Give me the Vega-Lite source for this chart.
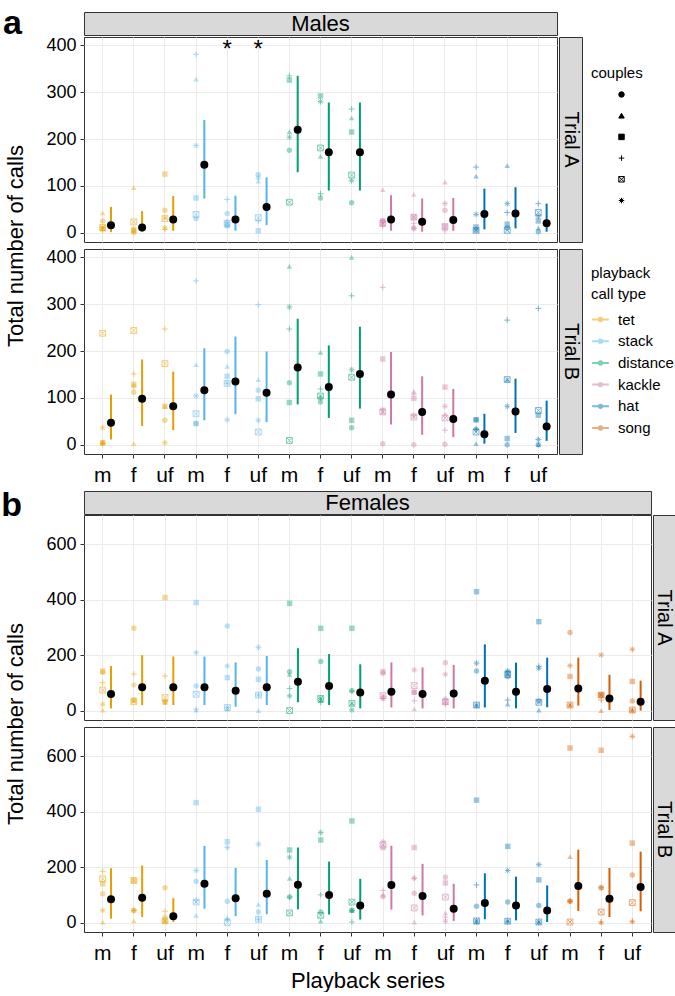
{
"$schema":"https://vega.github.io/schema/vega-lite/v6.json",
"padding":{"left":0,"top":6,"right":0,"bottom":0},
"config":{
 "font":"Liberation Sans",
 "view":{"stroke":"#333333"},
 "axis":{"gridColor":"#ebebeb","domain":false,"tickColor":"#333333","tickSize":4,"labelColor":"black","titleColor":"black","titleFontWeight":"normal","grid":true},
 "axisX":{"labelFontSize":21,"labelPadding":6,"labelAngle":0,"bandPosition":0.5,"titleFontSize":22,"titlePadding":7},
 "axisY":{"labelFontSize":18,"labelPadding":4,"titleFontSize":22,"titlePadding":18},
 "legend":{"titleFontSize":15,"titleFontWeight":"normal","labelFontSize":15,"titleColor":"black","labelColor":"black","rowPadding":6,"padding":0,"titlePadding":8,"direction":"vertical"}
},
"datasets":{"d":[
{"s":"M","t":"A","call":"tet","k":"tet m","c1":25,"c2":42,"c3":8,"c4":5,"c5":11,"c6":11,"mean":16,"lo":1,"hi":55},
{"s":"M","t":"A","call":"tet","k":"tet f","c1":8,"c2":96,"c3":4,"c4":2,"c5":23,"c6":0,"mean":11,"lo":2,"hi":46},
{"s":"M","t":"A","call":"tet","k":"tet uf","c1":48,"c2":33,"c3":125,"c4":7,"c5":30,"c6":10,"mean":28,"lo":4,"hi":78},
{"s":"M","t":"A","call":"stack","k":"stack m","c1":30,"c2":328,"c3":74,"c4":381,"c5":39,"c6":186,"mean":145,"lo":73,"hi":241},
{"s":"M","t":"A","call":"stack","k":"stack f","c1":41,"c2":25,"c3":16,"c4":71,"c5":20,"c6":14,"mean":28,"lo":4,"hi":79,"sig":"*"},
{"s":"M","t":"A","call":"stack","k":"stack uf","c1":124,"c2":110,"c3":4,"c4":25,"c5":32,"c6":117,"mean":55,"lo":16,"hi":118,"sig":"*"},
{"s":"M","t":"A","call":"distance","k":"distance m","c1":176,"c2":216,"c3":326,"c4":335,"c5":65,"c6":204,"mean":220,"lo":129,"hi":335},
{"s":"M","t":"A","call":"distance","k":"distance f","c1":74,"c2":163,"c3":292,"c4":83,"c5":181,"c6":280,"mean":172,"lo":90,"hi":278},
{"s":"M","t":"A","call":"distance","k":"distance uf","c1":64,"c2":245,"c3":215,"c4":264,"c5":123,"c6":111,"mean":172,"lo":90,"hi":278},
{"s":"M","t":"A","call":"kackle","k":"kackle m","c1":25,"c2":92,"c3":25,"c4":14,"c5":20,"c6":18,"mean":28,"lo":4,"hi":80},
{"s":"M","t":"A","call":"kackle","k":"kackle f","c1":10,"c2":82,"c3":33,"c4":20,"c5":33,"c6":9,"mean":23,"lo":2,"hi":73},
{"s":"M","t":"A","call":"kackle","k":"kackle uf","c1":48,"c2":108,"c3":13,"c4":4,"c5":13,"c6":62,"mean":27,"lo":4,"hi":74},
{"s":"M","t":"A","call":"hat","k":"hat m","c1":5,"c2":121,"c3":12,"c4":140,"c5":5,"c6":39,"mean":40,"lo":7,"hi":94},
{"s":"M","t":"A","call":"hat","k":"hat f","c1":10,"c2":143,"c3":18,"c4":43,"c5":5,"c6":62,"mean":41,"lo":9,"hi":97},
{"s":"M","t":"A","call":"hat","k":"hat uf","c1":2,"c2":10,"c3":25,"c4":62,"c5":43,"c6":35,"mean":20,"lo":2,"hi":62},
{"s":"M","t":"B","call":"tet","k":"tet m","c1":4,"c2":4,"c3":4,"c4":2,"c5":238,"c6":36,"mean":47,"lo":11,"hi":107},
{"s":"M","t":"B","call":"tet","k":"tet f","c1":112,"c2":2,"c3":129,"c4":151,"c5":244,"c6":125,"mean":98,"lo":40,"hi":182},
{"s":"M","t":"B","call":"tet","k":"tet uf","c1":52,"c2":82,"c3":82,"c4":247,"c5":173,"c6":4,"mean":82,"lo":31,"hi":156},
{"s":"M","t":"B","call":"stack","k":"stack m","c1":45,"c2":171,"c3":45,"c4":350,"c5":66,"c6":104,"mean":116,"lo":52,"hi":206},
{"s":"M","t":"B","call":"stack","k":"stack f","c1":199,"c2":167,"c3":146,"c4":131,"c5":131,"c6":53,"mean":135,"lo":65,"hi":231},
{"s":"M","t":"B","call":"stack","k":"stack uf","c1":116,"c2":139,"c3":98,"c4":299,"c5":27,"c6":52,"mean":111,"lo":48,"hi":199},
{"s":"M","t":"B","call":"distance","k":"distance m","c1":132,"c2":381,"c3":90,"c4":247,"c5":9,"c6":294,"mean":165,"lo":86,"hi":269},
{"s":"M","t":"B","call":"distance","k":"distance f","c1":91,"c2":197,"c3":151,"c4":119,"c5":104,"c6":100,"mean":123,"lo":57,"hi":212},
{"s":"M","t":"B","call":"distance","k":"distance uf","c1":36,"c2":400,"c3":52,"c4":318,"c5":144,"c6":160,"mean":151,"lo":77,"hi":252},
{"s":"M","t":"B","call":"kackle","k":"kackle m","c1":2,"c2":70,"c3":183,"c4":336,"c5":70,"c6":75,"mean":107,"lo":43,"hi":198},
{"s":"M","t":"B","call":"kackle","k":"kackle f","c1":0,"c2":114,"c3":99,"c4":108,"c5":59,"c6":62,"mean":70,"lo":21,"hi":146},
{"s":"M","t":"B","call":"kackle","k":"kackle uf","c1":1,"c2":65,"c3":123,"c4":31,"c5":57,"c6":82,"mean":55,"lo":16,"hi":119},
{"s":"M","t":"B","call":"hat","k":"hat m","c1":53,"c2":2,"c3":53,"c4":33,"c5":27,"c6":33,"mean":22,"lo":2,"hi":66},
{"s":"M","t":"B","call":"hat","k":"hat f","c1":0,"c2":139,"c3":13,"c4":266,"c5":139,"c6":82,"mean":71,"lo":25,"hi":141},
{"s":"M","t":"B","call":"hat","k":"hat uf","c1":0,"c2":0,"c3":63,"c4":291,"c5":73,"c6":11,"mean":39,"lo":8,"hi":94},
{"s":"F","t":"A","call":"tet","k":"tet m","c1":138,"c2":2,"c3":143,"c4":101,"c5":74,"c6":23,"mean":60,"lo":8,"hi":161},
{"s":"F","t":"A","call":"tet","k":"tet f","c1":297,"c2":38,"c3":38,"c4":132,"c5":32,"c6":92,"mean":84,"lo":20,"hi":200},
{"s":"F","t":"A","call":"tet","k":"tet uf","c1":32,"c2":29,"c3":408,"c4":125,"c5":47,"c6":32,"mean":84,"lo":20,"hi":195},
{"s":"F","t":"A","call":"stack","k":"stack m","c1":89,"c2":2,"c3":390,"c4":5,"c5":59,"c6":209,"mean":84,"lo":20,"hi":195},
{"s":"F","t":"A","call":"stack","k":"stack f","c1":305,"c2":5,"c3":119,"c4":11,"c5":11,"c6":161,"mean":72,"lo":14,"hi":174},
{"s":"F","t":"A","call":"stack","k":"stack uf","c1":150,"c2":0,"c3":113,"c4":56,"c5":56,"c6":228,"mean":84,"lo":20,"hi":197},
{"s":"F","t":"A","call":"distance","k":"distance m","c1":140,"c2":131,"c3":387,"c4":80,"c5":0,"c6":53,"mean":104,"lo":30,"hi":225},
{"s":"F","t":"A","call":"distance","k":"distance f","c1":177,"c2":36,"c3":297,"c4":30,"c5":44,"c6":44,"mean":89,"lo":20,"hi":204},
{"s":"F","t":"A","call":"distance","k":"distance uf","c1":72,"c2":26,"c3":297,"c4":70,"c5":26,"c6":2,"mean":65,"lo":8,"hi":167},
{"s":"F","t":"A","call":"kackle","k":"kackle m","c1":135,"c2":44,"c3":141,"c4":44,"c5":54,"c6":50,"mean":68,"lo":11,"hi":174},
{"s":"F","t":"A","call":"kackle","k":"kackle f","c1":66,"c2":6,"c3":66,"c4":35,"c5":90,"c6":147,"mean":60,"lo":8,"hi":156},
{"s":"F","t":"A","call":"kackle","k":"kackle uf","c1":173,"c2":47,"c3":32,"c4":23,"c5":32,"c6":131,"mean":62,"lo":8,"hi":165},
{"s":"F","t":"A","call":"hat","k":"hat m","c1":143,"c2":18,"c3":429,"c4":20,"c5":20,"c6":171,"mean":108,"lo":11,"hi":239},
{"s":"F","t":"A","call":"hat","k":"hat f","c1":123,"c2":23,"c3":135,"c4":38,"c5":130,"c6":143,"mean":68,"lo":8,"hi":173},
{"s":"F","t":"A","call":"hat","k":"hat uf","c1":35,"c2":2,"c3":321,"c4":160,"c5":30,"c6":153,"mean":78,"lo":12,"hi":191},
{"s":"F","t":"A","call":"song","k":"song m","c1":282,"c2":20,"c3":123,"c4":20,"c5":20,"c6":162,"mean":80,"lo":18,"hi":191},
{"s":"F","t":"A","call":"song","k":"song f","c1":56,"c2":0,"c3":56,"c4":38,"c5":56,"c6":201,"mean":44,"lo":2,"hi":129},
{"s":"F","t":"A","call":"song","k":"song uf","c1":35,"c2":2,"c3":105,"c4":2,"c5":2,"c6":221,"mean":32,"lo":0,"hi":108},
{"s":"F","t":"B","call":"tet","k":"tet m","c1":104,"c2":2,"c3":140,"c4":185,"c5":158,"c6":44,"mean":84,"lo":14,"hi":196},
{"s":"F","t":"B","call":"tet","k":"tet f","c1":44,"c2":6,"c3":152,"c4":44,"c5":152,"c6":44,"mean":90,"lo":20,"hi":206},
{"s":"F","t":"B","call":"tet","k":"tet uf","c1":126,"c2":6,"c3":6,"c4":41,"c5":6,"c6":20,"mean":23,"lo":2,"hi":88},
{"s":"F","t":"B","call":"stack","k":"stack m","c1":149,"c2":26,"c3":433,"c4":80,"c5":74,"c6":188,"mean":140,"lo":50,"hi":277},
{"s":"F","t":"B","call":"stack","k":"stack f","c1":77,"c2":14,"c3":292,"c4":14,"c5":0,"c6":271,"mean":88,"lo":23,"hi":197},
{"s":"F","t":"B","call":"stack","k":"stack uf","c1":38,"c2":66,"c3":409,"c4":12,"c5":12,"c6":283,"mean":104,"lo":30,"hi":226},
{"s":"F","t":"B","call":"distance","k":"distance m","c1":92,"c2":160,"c3":262,"c4":92,"c5":35,"c6":236,"mean":137,"lo":48,"hi":271},
{"s":"F","t":"B","call":"distance","k":"distance f","c1":38,"c2":5,"c3":298,"c4":100,"c5":26,"c6":325,"mean":100,"lo":29,"hi":220},
{"s":"F","t":"B","call":"distance","k":"distance uf","c1":44,"c2":44,"c3":367,"c4":2,"c5":74,"c6":44,"mean":62,"lo":11,"hi":158},
{"s":"F","t":"B","call":"kackle","k":"kackle m","c1":94,"c2":100,"c3":271,"c4":116,"c5":280,"c6":292,"mean":136,"lo":47,"hi":277},
{"s":"F","t":"B","call":"kackle","k":"kackle f","c1":106,"c2":2,"c3":271,"c4":160,"c5":53,"c6":160,"mean":96,"lo":26,"hi":212},
{"s":"F","t":"B","call":"kackle","k":"kackle uf","c1":164,"c2":35,"c3":143,"c4":20,"c5":92,"c6":5,"mean":50,"lo":6,"hi":140},
{"s":"F","t":"B","call":"hat","k":"hat m","c1":59,"c2":2,"c3":442,"c4":136,"c5":6,"c6":6,"mean":71,"lo":12,"hi":178},
{"s":"F","t":"B","call":"hat","k":"hat f","c1":74,"c2":5,"c3":275,"c4":5,"c5":5,"c6":188,"mean":62,"lo":8,"hi":166},
{"s":"F","t":"B","call":"hat","k":"hat uf","c1":62,"c2":2,"c3":154,"c4":2,"c5":2,"c6":209,"mean":44,"lo":2,"hi":134},
{"s":"F","t":"B","call":"song","k":"song m","c1":77,"c2":238,"c3":630,"c4":77,"c5":2,"c6":77,"mean":132,"lo":42,"hi":263},
{"s":"F","t":"B","call":"song","k":"song f","c1":126,"c2":2,"c3":622,"c4":2,"c5":38,"c6":126,"mean":86,"lo":20,"hi":197},
{"s":"F","t":"B","call":"song","k":"song uf","c1":172,"c2":5,"c3":287,"c4":5,"c5":72,"c6":672,"mean":128,"lo":41,"hi":256}
]},
"spacing":2,
"vconcat":[
{
 "align":"none",
 "spacing":-7,
 "vconcat":[
  {"width":473,"height":23,"data":{"values":[{"lab":"Males"}]},"view":{"fill":"#d9d9d9","stroke":"#333333"},
   "title":{"text":"a","orient":"left","anchor":"end","angle":0,"align":"left","baseline":"alphabetic","offset":62,"dy":22,"fontSize":34,"fontWeight":"bold","color":"black"},
   "mark":{"type":"text","fontSize":22,"baseline":"middle","color":"black"},"encoding":{"text":{"field":"lab"}}},
  {"spacing":0,"hconcat":[
   {"spacing":7,"bounds":"flush","vconcat":[
    {"width":473,"height":205,"data":{"name":"d"},"transform":[{"filter":"datum.s==='M' && datum.t==='A'"}],"view":{"stroke":"#333333"},
     "layer":[
      {"mark":{"type":"rule","strokeWidth":2},"encoding":{
        "x":{"field":"k","type":"nominal","bandPosition":0.767,"scale":{"type":"band","domain":["tet m","tet f","tet uf","stack m","stack f","stack uf","distance m","distance f","distance uf","kackle m","kackle f","kackle uf","hat m","hat f","hat uf"],"paddingInner":0,"paddingOuter":0.1},"axis":{"labels":false,"ticks":false,"title":null}},
        "y":{"field":"lo","type":"quantitative","scale":{"domain":[-20,418],"nice":false,"zero":false},"axis":{"values":[0,50,100,150,200,250,300,350,400],"labelExpr":"datum.value % 100 === 0 ? datum.label : ''","gridWidth":{"condition":{"test":"datum.value % 100 !== 0","value":0.6},"value":1},"tickOpacity":{"condition":{"test":"datum.value % 100 !== 0","value":0},"value":1},"title":"Total number of calls","titleY":208.5}},
        "y2":{"field":"hi"},
        "color":{"field":"call","type":"nominal","scale":{"domain":["tet","stack","distance","kackle","hat","song"],"range":["#E69F00","#56B4E9","#009E73","#CC79A7","#0072B2","#D55E00"]},"legend":{"title":["playback","call type"],"orient":"none","legendX":507,"legendY":254,"symbolType":"M-1,0L1,0M-0.2,0A0.2,0.2,0,1,1,0.2,0A0.2,0.2,0,1,1,-0.2,0","symbolSize":280,"symbolStrokeWidth":2,"symbolOpacity":0.6,"labelOffset":8,"rowPadding":3.7,"titleLineHeight":21,"titlePadding":8}}}},
      {"transform":[{"fold":["c1","c2","c3","c4","c5","c6"],"as":["couple","v"]},{"filter":{"field":"couple","oneOf":["c4","c5","c6"]}}],
       "mark":{"type":"point","filled":false,"opacity":0.5,"size":34,"strokeWidth":1},
       "encoding":{"x":{"field":"k","type":"nominal"},"y":{"field":"v","type":"quantitative"},"color":{"field":"call","type":"nominal"},"shape":{"field":"couple","type":"nominal"}}},
      {"transform":[{"fold":["c1","c2","c3","c4","c5","c6"],"as":["couple","v"]},{"filter":{"field":"couple","oneOf":["c1","c2","c3"]}}],
       "mark":{"type":"point","filled":true,"opacity":0.4,"size":30},
       "encoding":{"x":{"field":"k","type":"nominal"},"y":{"field":"v","type":"quantitative"},"color":{"field":"call","type":"nominal"},
        "shape":{"field":"couple","type":"nominal","scale":{"domain":["c1","c2","c3","c4","c5","c6"],"range":["circle","triangle-up","square","M-1,0L1,0M0,-1L0,1","M-1,-1L1,-1M1,-1L1,1M1,1L-1,1M-1,1L-1,-1M-1,-1L1,1M-1,1L1,-1","M-1,0L1,0M0,-1L0,1M-0.7,-0.7L0.7,0.7M-0.7,0.7L0.7,-0.7"]},"legend":{"title":"couples","orient":"none","legendX":507,"legendY":54,"labelExpr":"''","symbolFillColor":"black","symbolStrokeColor":"black","symbolOpacity":1,"symbolSize":30,"symbolStrokeWidth":1,"symbolOffset":23,"rowPadding":5.2,"titlePadding":6,"encode":{"symbols":{"update":{"fill":{"value":"black"},"stroke":{"value":"black"},"opacity":{"value":1},"strokeWidth":{"value":1}}}}}}}},
      {"mark":{"type":"point","filled":true,"color":"black","opacity":1,"size":64},"encoding":{"x":{"field":"k","type":"nominal","bandPosition":0.767},"y":{"field":"mean","type":"quantitative"}}},
      {"transform":[{"filter":"isValid(datum.sig)"}],"mark":{"type":"text","fontSize":24,"baseline":"alphabetic","color":"black"},"encoding":{"x":{"field":"k","type":"nominal"},"y":{"datum":376},"text":{"field":"sig"}}}
     ]},
    {"width":473,"height":205,"data":{"name":"d"},"transform":[{"filter":"datum.s==='M' && datum.t==='B'"}],"view":{"stroke":"#333333"},
     "layer":[
      {"mark":{"type":"rule","strokeWidth":2},"encoding":{
        "x":{"field":"k","type":"nominal","bandPosition":0.767,"scale":{"type":"band","domain":["tet m","tet f","tet uf","stack m","stack f","stack uf","distance m","distance f","distance uf","kackle m","kackle f","kackle uf","hat m","hat f","hat uf"],"paddingInner":0,"paddingOuter":0.1},"axis":{"labelExpr":"split(datum.label,' ')[1]","title":null}},
        "y":{"field":"lo","type":"quantitative","scale":{"domain":[-20,418],"nice":false,"zero":false},"axis":{"values":[0,50,100,150,200,250,300,350,400],"labelExpr":"datum.value % 100 === 0 ? datum.label : ''","gridWidth":{"condition":{"test":"datum.value % 100 !== 0","value":0.6},"value":1},"tickOpacity":{"condition":{"test":"datum.value % 100 !== 0","value":0},"value":1},"title":null}},
        "y2":{"field":"hi"},
        "color":{"field":"call","type":"nominal","scale":{"domain":["tet","stack","distance","kackle","hat","song"],"range":["#E69F00","#56B4E9","#009E73","#CC79A7","#0072B2","#D55E00"]},"legend":{"title":["playback","call type"],"orient":"none","legendX":507,"legendY":254,"symbolType":"M-1,0L1,0M-0.2,0A0.2,0.2,0,1,1,0.2,0A0.2,0.2,0,1,1,-0.2,0","symbolSize":280,"symbolStrokeWidth":2,"symbolOpacity":0.6,"labelOffset":8,"rowPadding":3.7,"titleLineHeight":21,"titlePadding":8}}}},
      {"transform":[{"fold":["c1","c2","c3","c4","c5","c6"],"as":["couple","v"]},{"filter":{"field":"couple","oneOf":["c4","c5","c6"]}}],
       "mark":{"type":"point","filled":false,"opacity":0.5,"size":34,"strokeWidth":1},
       "encoding":{"x":{"field":"k","type":"nominal"},"y":{"field":"v","type":"quantitative"},"color":{"field":"call","type":"nominal"},"shape":{"field":"couple","type":"nominal"}}},
      {"transform":[{"fold":["c1","c2","c3","c4","c5","c6"],"as":["couple","v"]},{"filter":{"field":"couple","oneOf":["c1","c2","c3"]}}],
       "mark":{"type":"point","filled":true,"opacity":0.4,"size":30},
       "encoding":{"x":{"field":"k","type":"nominal"},"y":{"field":"v","type":"quantitative"},"color":{"field":"call","type":"nominal"},
        "shape":{"field":"couple","type":"nominal","scale":{"domain":["c1","c2","c3","c4","c5","c6"],"range":["circle","triangle-up","square","M-1,0L1,0M0,-1L0,1","M-1,-1L1,-1M1,-1L1,1M1,1L-1,1M-1,1L-1,-1M-1,-1L1,1M-1,1L1,-1","M-1,0L1,0M0,-1L0,1M-0.7,-0.7L0.7,0.7M-0.7,0.7L0.7,-0.7"]},"legend":{"title":"couples","orient":"none","legendX":507,"legendY":54,"labelExpr":"''","symbolFillColor":"black","symbolStrokeColor":"black","symbolOpacity":1,"symbolSize":30,"symbolStrokeWidth":1,"symbolOffset":23,"rowPadding":5.2,"titlePadding":6,"encode":{"symbols":{"update":{"fill":{"value":"black"},"stroke":{"value":"black"},"opacity":{"value":1},"strokeWidth":{"value":1}}}}}}}},
      {"mark":{"type":"point","filled":true,"color":"black","opacity":1,"size":64},"encoding":{"x":{"field":"k","type":"nominal","bandPosition":0.767},"y":{"field":"mean","type":"quantitative"}}}
     ]}
   ]},
   {"spacing":7,"bounds":"flush","vconcat":[
    {"width":23,"height":205,"data":{"values":[{"lab":"Trial A"}]},"view":{"fill":"#d9d9d9","stroke":"#333333"},"mark":{"type":"text","fontSize":20,"angle":90,"baseline":"middle","color":"black"},"encoding":{"text":{"field":"lab"}}},
    {"width":23,"height":205,"data":{"values":[{"lab":"Trial B"}]},"view":{"fill":"#d9d9d9","stroke":"#333333"},"mark":{"type":"text","fontSize":20,"angle":90,"baseline":"middle","color":"black"},"encoding":{"text":{"field":"lab"}}}
   ]}
  ]}
 ]
},
{
 "align":"none",
 "spacing":-10,
 "vconcat":[
  {"width":567,"height":23,"data":{"values":[{"lab":"Females"}]},"view":{"fill":"#d9d9d9","stroke":"#333333"},
   "title":{"text":"b","orient":"left","anchor":"end","angle":0,"align":"left","baseline":"alphabetic","offset":62,"dy":25,"fontSize":34,"fontWeight":"bold","color":"black"},
   "mark":{"type":"text","fontSize":22,"baseline":"middle","color":"black"},"encoding":{"text":{"field":"lab"}}},
  {"spacing":0,"hconcat":[
   {"spacing":7,"bounds":"flush","vconcat":[
    {"width":567,"height":205,"data":{"name":"d"},"transform":[{"filter":"datum.s==='F' && datum.t==='A'"}],"view":{"stroke":"#333333"},
     "layer":[
      {"mark":{"type":"rule","strokeWidth":2},"encoding":{
        "x":{"field":"k","type":"nominal","bandPosition":0.767,"scale":{"type":"band","domain":["tet m","tet f","tet uf","stack m","stack f","stack uf","distance m","distance f","distance uf","kackle m","kackle f","kackle uf","hat m","hat f","hat uf","song m","song f","song uf"],"paddingInner":0,"paddingOuter":0.1},"axis":{"labels":false,"ticks":false,"title":null}},
        "y":{"field":"lo","type":"quantitative","scale":{"domain":[-34,706],"nice":false,"zero":false},"axis":{"values":[0,100,200,300,400,500,600,700],"labelExpr":"datum.value % 200 === 0 ? datum.label : ''","gridWidth":{"condition":{"test":"datum.value % 200 !== 0","value":0.6},"value":1},"tickOpacity":{"condition":{"test":"datum.value % 200 !== 0","value":0},"value":1},"title":"Total number of calls","titleY":208.5}},
        "y2":{"field":"hi"},
        "color":{"field":"call","type":"nominal","scale":{"domain":["tet","stack","distance","kackle","hat","song"],"range":["#E69F00","#56B4E9","#009E73","#CC79A7","#0072B2","#D55E00"]},"legend":{"title":["playback","call type"],"orient":"none","legendX":507,"legendY":254,"symbolType":"M-1,0L1,0M-0.2,0A0.2,0.2,0,1,1,0.2,0A0.2,0.2,0,1,1,-0.2,0","symbolSize":280,"symbolStrokeWidth":2,"symbolOpacity":0.6,"labelOffset":8,"rowPadding":3.7,"titleLineHeight":21,"titlePadding":8}}}},
      {"transform":[{"fold":["c1","c2","c3","c4","c5","c6"],"as":["couple","v"]},{"filter":{"field":"couple","oneOf":["c4","c5","c6"]}}],
       "mark":{"type":"point","filled":false,"opacity":0.5,"size":34,"strokeWidth":1},
       "encoding":{"x":{"field":"k","type":"nominal"},"y":{"field":"v","type":"quantitative"},"color":{"field":"call","type":"nominal"},"shape":{"field":"couple","type":"nominal"}}},
      {"transform":[{"fold":["c1","c2","c3","c4","c5","c6"],"as":["couple","v"]},{"filter":{"field":"couple","oneOf":["c1","c2","c3"]}}],
       "mark":{"type":"point","filled":true,"opacity":0.4,"size":30},
       "encoding":{"x":{"field":"k","type":"nominal"},"y":{"field":"v","type":"quantitative"},"color":{"field":"call","type":"nominal"},
        "shape":{"field":"couple","type":"nominal","scale":{"domain":["c1","c2","c3","c4","c5","c6"],"range":["circle","triangle-up","square","M-1,0L1,0M0,-1L0,1","M-1,-1L1,-1M1,-1L1,1M1,1L-1,1M-1,1L-1,-1M-1,-1L1,1M-1,1L1,-1","M-1,0L1,0M0,-1L0,1M-0.7,-0.7L0.7,0.7M-0.7,0.7L0.7,-0.7"]},"legend":{"title":"couples","orient":"none","legendX":507,"legendY":54,"labelExpr":"''","symbolFillColor":"black","symbolStrokeColor":"black","symbolOpacity":1,"symbolSize":30,"symbolStrokeWidth":1,"symbolOffset":23,"rowPadding":5.2,"titlePadding":6,"encode":{"symbols":{"update":{"fill":{"value":"black"},"stroke":{"value":"black"},"opacity":{"value":1},"strokeWidth":{"value":1}}}}}}}},
      {"mark":{"type":"point","filled":true,"color":"black","opacity":1,"size":64},"encoding":{"x":{"field":"k","type":"nominal","bandPosition":0.767},"y":{"field":"mean","type":"quantitative"}}}
     ]},
    {"width":567,"height":205,"data":{"name":"d"},"transform":[{"filter":"datum.s==='F' && datum.t==='B'"}],"view":{"stroke":"#333333"},
     "layer":[
      {"mark":{"type":"rule","strokeWidth":2},"encoding":{
        "x":{"field":"k","type":"nominal","bandPosition":0.767,"scale":{"type":"band","domain":["tet m","tet f","tet uf","stack m","stack f","stack uf","distance m","distance f","distance uf","kackle m","kackle f","kackle uf","hat m","hat f","hat uf","song m","song f","song uf"],"paddingInner":0,"paddingOuter":0.1},"axis":{"labelExpr":"split(datum.label,' ')[1]","title":"Playback series"}},
        "y":{"field":"lo","type":"quantitative","scale":{"domain":[-34,706],"nice":false,"zero":false},"axis":{"values":[0,100,200,300,400,500,600,700],"labelExpr":"datum.value % 200 === 0 ? datum.label : ''","gridWidth":{"condition":{"test":"datum.value % 200 !== 0","value":0.6},"value":1},"tickOpacity":{"condition":{"test":"datum.value % 200 !== 0","value":0},"value":1},"title":null}},
        "y2":{"field":"hi"},
        "color":{"field":"call","type":"nominal","scale":{"domain":["tet","stack","distance","kackle","hat","song"],"range":["#E69F00","#56B4E9","#009E73","#CC79A7","#0072B2","#D55E00"]},"legend":{"title":["playback","call type"],"orient":"none","legendX":507,"legendY":254,"symbolType":"M-1,0L1,0M-0.2,0A0.2,0.2,0,1,1,0.2,0A0.2,0.2,0,1,1,-0.2,0","symbolSize":280,"symbolStrokeWidth":2,"symbolOpacity":0.6,"labelOffset":8,"rowPadding":3.7,"titleLineHeight":21,"titlePadding":8}}}},
      {"transform":[{"fold":["c1","c2","c3","c4","c5","c6"],"as":["couple","v"]},{"filter":{"field":"couple","oneOf":["c4","c5","c6"]}}],
       "mark":{"type":"point","filled":false,"opacity":0.5,"size":34,"strokeWidth":1},
       "encoding":{"x":{"field":"k","type":"nominal"},"y":{"field":"v","type":"quantitative"},"color":{"field":"call","type":"nominal"},"shape":{"field":"couple","type":"nominal"}}},
      {"transform":[{"fold":["c1","c2","c3","c4","c5","c6"],"as":["couple","v"]},{"filter":{"field":"couple","oneOf":["c1","c2","c3"]}}],
       "mark":{"type":"point","filled":true,"opacity":0.4,"size":30},
       "encoding":{"x":{"field":"k","type":"nominal"},"y":{"field":"v","type":"quantitative"},"color":{"field":"call","type":"nominal"},
        "shape":{"field":"couple","type":"nominal","scale":{"domain":["c1","c2","c3","c4","c5","c6"],"range":["circle","triangle-up","square","M-1,0L1,0M0,-1L0,1","M-1,-1L1,-1M1,-1L1,1M1,1L-1,1M-1,1L-1,-1M-1,-1L1,1M-1,1L1,-1","M-1,0L1,0M0,-1L0,1M-0.7,-0.7L0.7,0.7M-0.7,0.7L0.7,-0.7"]},"legend":{"title":"couples","orient":"none","legendX":507,"legendY":54,"labelExpr":"''","symbolFillColor":"black","symbolStrokeColor":"black","symbolOpacity":1,"symbolSize":30,"symbolStrokeWidth":1,"symbolOffset":23,"rowPadding":5.2,"titlePadding":6,"encode":{"symbols":{"update":{"fill":{"value":"black"},"stroke":{"value":"black"},"opacity":{"value":1},"strokeWidth":{"value":1}}}}}}}},
      {"mark":{"type":"point","filled":true,"color":"black","opacity":1,"size":64},"encoding":{"x":{"field":"k","type":"nominal","bandPosition":0.767},"y":{"field":"mean","type":"quantitative"}}}
     ]}
   ]},
   {"spacing":7,"bounds":"flush","vconcat":[
    {"width":22,"height":205,"data":{"values":[{"lab":"Trial A"}]},"view":{"fill":"#d9d9d9","stroke":"#333333"},"mark":{"type":"text","fontSize":20,"angle":90,"baseline":"middle","color":"black"},"encoding":{"text":{"field":"lab"}}},
    {"width":22,"height":205,"data":{"values":[{"lab":"Trial B"}]},"view":{"fill":"#d9d9d9","stroke":"#333333"},"mark":{"type":"text","fontSize":20,"angle":90,"baseline":"middle","color":"black"},"encoding":{"text":{"field":"lab"}}}
   ]}
  ]}
 ]
}
]
}
